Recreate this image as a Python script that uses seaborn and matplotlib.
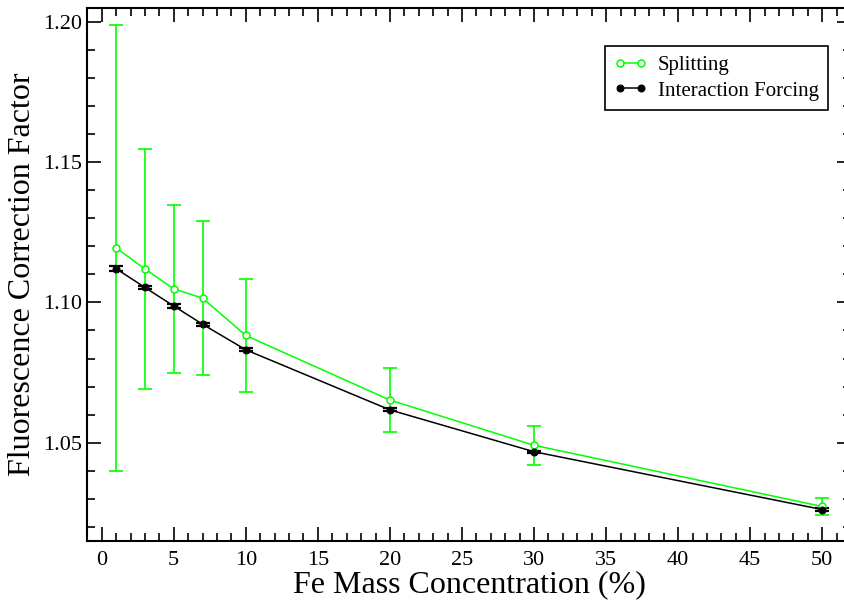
import numpy as np
import pandas as pd
import matplotlib
matplotlib.use('Agg')
import matplotlib.pyplot as plt
from matplotlib.ticker import MultipleLocator, FormatStrFormatter
import seaborn as sns

# --- Data ---
fe_conc = [1, 3, 5, 7, 10, 20, 30, 50]

splitting = [1.1194, 1.1119, 1.1048, 1.1015, 1.0882, 1.0652, 1.0491, 1.0273]
splitting_err = [0.0794, 0.0428, 0.0300, 0.0275, 0.0202, 0.0114, 0.0069, 0.0031]

forcing = [1.1120, 1.1053, 1.0987, 1.0922, 1.0831, 1.0617, 1.0468, 1.0262]
forcing_err = [0.0008, 0.0007, 0.0006, 0.0006, 0.0006, 0.0005, 0.0004, 0.0004]

GREEN = '#00ff00'

df = pd.DataFrame({
    'conc': fe_conc * 2,
    'factor': splitting + forcing,
    'method': ['Splitting'] * len(fe_conc) + ['Interaction Forcing'] * len(fe_conc),
})

# --- Style ---
sns.set_style('ticks')
plt.rcParams['font.family'] = ['Liberation Serif', 'DejaVu Serif']

fig = plt.figure(figsize=(8.44, 6.02), dpi=100)
ax = fig.add_axes([0.1034, 0.1013, 0.9050, 0.8862])

# error bars first
ax.errorbar(fe_conc, splitting, yerr=splitting_err, fmt='none', ecolor=GREEN,
            elinewidth=1.2, capsize=5.3, capthick=1.2, zorder=2)
ax.errorbar(fe_conc, forcing, yerr=forcing_err, fmt='none', ecolor='black',
            elinewidth=1.4, capsize=5.3, capthick=1.6, zorder=3)

sub = df[df['method'] == 'Splitting']
sns.lineplot(data=sub, x='conc', y='factor', ax=ax, color=GREEN, lw=1.1,
             marker='o', markersize=5, markerfacecolor='white',
             markeredgecolor=GREEN, markeredgewidth=1.1, label='Splitting', zorder=4)
sub = df[df['method'] == 'Interaction Forcing']
sns.lineplot(data=sub, x='conc', y='factor', ax=ax, color='black', lw=1.1,
             marker='o', markersize=5, markerfacecolor='black',
             markeredgecolor='black', label='Interaction Forcing', zorder=5)

# --- Axes ---
ax.set_xlim(-1, 52)
ax.set_ylim(1.015, 1.205)
ax.xaxis.set_major_locator(MultipleLocator(5))
ax.xaxis.set_minor_locator(MultipleLocator(1))
ax.yaxis.set_major_locator(MultipleLocator(0.05))
ax.yaxis.set_minor_locator(MultipleLocator(0.01))
ax.yaxis.set_major_formatter(FormatStrFormatter('%.2f'))

ax.tick_params(which='both', direction='in', top=True, right=True, labelsize=16,
               width=1.2, colors='black')
ax.tick_params(which='major', length=10.3)
ax.tick_params(which='minor', length=5.5)
ax.tick_params(axis='x', pad=7)
ax.tick_params(axis='y', pad=4)
for s in ax.spines.values():
    s.set_linewidth(1.5)
    s.set_color('black')

ax.set_xlabel('Fe Mass Concentration (%)', fontsize=23, labelpad=0, color='black')
ax.set_ylabel('Fluorescence Correction Factor', fontsize=23, labelpad=4, color='black')

leg = ax.legend(loc='upper right', bbox_to_anchor=(828 / 844, 1 - 46 / 602),
                bbox_transform=fig.transFigure, borderaxespad=0, numpoints=2,
                fontsize=15, frameon=True, fancybox=False, edgecolor='black',
                framealpha=1, handlelength=1.6, handletextpad=0.5,
                labelspacing=0.3, borderpad=0.45)
leg.get_frame().set_linewidth(1.2)
for t in leg.get_texts():
    t.set_color('black')

fig.savefig('out.png', dpi=100)
